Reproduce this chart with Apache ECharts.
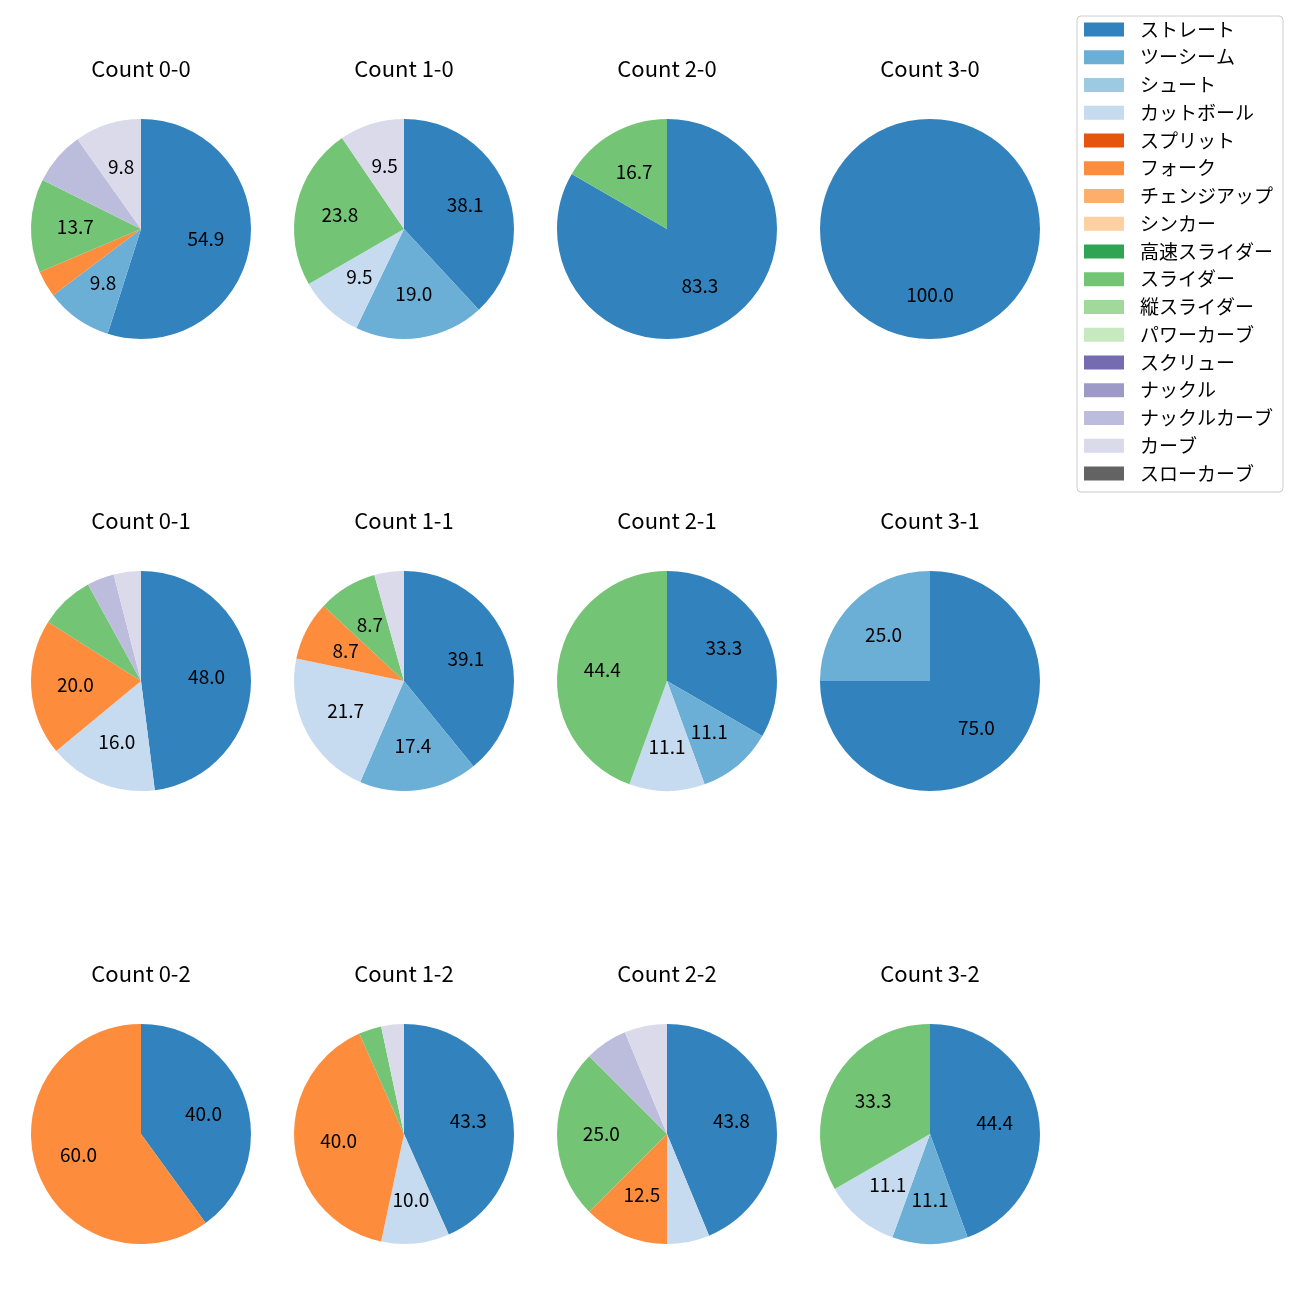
<!DOCTYPE html>
<html><head><meta charset="utf-8">
<script src="https://cdn.jsdelivr.net/npm/echarts@6/dist/echarts.min.js"></script>
<style>html,body{margin:0;padding:0;background:#fff}#c{width:1300px;height:1300px}</style>
</head><body><div id="c"></div>
<script>
const countLabels = ['Count 0-0','Count 1-0','Count 2-0','Count 3-0','Count 0-1','Count 1-1','Count 2-1','Count 3-1','Count 0-2','Count 1-2','Count 2-2','Count 3-2'];
const pitchTypes = ['ストレート','ツーシーム','シュート','カットボール','スプリット','フォーク','チェンジアップ','シンカー','高速スライダー','スライダー','縦スライダー','パワーカーブ','スクリュー','ナックル','ナックルカーブ','カーブ','スローカーブ'];
const pitchColors = ['#3182bd','#6baed6','#9ecae1','#c6dbef','#e6550d','#fd8d3c','#fdae6b','#fdd0a2','#31a354','#74c476','#a1d99b','#c7e9c0','#756bb1','#9e9ac8','#bcbddc','#dadaeb','#636363'];
// pitch counts per panel (order follows countLabels)
const straight     = [28,8,5,1,12,9,3,3,2,13,7,4];
const twoSeam      = [5,4,0,0,0,4,1,1,0,0,0,1];
const shoot        = [0,0,0,0,0,0,0,0,0,0,0,0];
const cutter       = [0,2,0,0,4,5,1,0,0,3,1,1];
const split        = [0,0,0,0,0,0,0,0,0,0,0,0];
const fork         = [2,0,0,0,5,2,0,0,3,12,2,0];
const changeup     = [0,0,0,0,0,0,0,0,0,0,0,0];
const sinker       = [0,0,0,0,0,0,0,0,0,0,0,0];
const fastSlider   = [0,0,0,0,0,0,0,0,0,0,0,0];
const slider       = [7,5,1,0,2,2,4,0,0,1,4,3];
const vertSlider   = [0,0,0,0,0,0,0,0,0,0,0,0];
const powerCurve   = [0,0,0,0,0,0,0,0,0,0,0,0];
const screw        = [0,0,0,0,0,0,0,0,0,0,0,0];
const knuckle      = [0,0,0,0,0,0,0,0,0,0,0,0];
const knuckleCurve = [4,0,0,0,1,0,0,0,0,0,1,0];
const curve        = [5,2,0,0,1,1,0,0,0,1,1,0];
const slowCurve    = [0,0,0,0,0,0,0,0,0,0,0,0];

const pitchCounts = [straight,twoSeam,shoot,cutter,split,fork,changeup,sinker,fastSlider,slider,vertSlider,powerCurve,screw,knuckle,knuckleCurve,curve,slowCurve];

const FONT = '"Noto Sans CJK JP", "Noto Sans", sans-serif';
const colX = [141, 404, 667, 930];
const rowY = [229, 681, 1134];
const R = 110;

const titles = [];
const series = [];
countLabels.forEach((lab, i) => {
  const cx = colX[i % 4], cy = rowY[Math.floor(i / 4)];
  const data = pitchTypes.map((name, k) => ({name, value: pitchCounts[k][i], itemStyle: {color: pitchColors[k]}}));
  const total = data.reduce((s, d) => s + d.value, 0);
  titles.push({text: lab, left: cx, top: cy - 171, textAlign: 'center', padding: 0,
    textStyle: {fontFamily: FONT, fontSize: 22, fontWeight: 'normal', color: '#000'}});
  series.push({type: 'pie', center: [cx, cy], radius: [0, R], startAngle: 90, clockwise: true,
    data, label: {show: false}, labelLine: {show: false}, itemStyle: {borderWidth: 0},
    emphasis: {disabled: true}, animation: false});
  series.push({type: 'pie', center: [cx, cy], radius: [0, R * 1.14], startAngle: 90, clockwise: true,
    silent: true, animation: false, emphasis: {disabled: true},
    data: data.map(d => ({name: d.name, value: d.value, itemStyle: {color: 'rgba(0,0,0,0)'}})),
    itemStyle: {borderWidth: 0},
    labelLine: {show: false},
    label: {show: true, position: 'inside', color: '#000', fontFamily: FONT, fontSize: 19,
      formatter: p => { const pct = p.value / total * 100; return pct >= 8.5 ? pct.toFixed(1) : ''; }}});
});

const chart = echarts.init(document.getElementById('c'), null, {renderer: 'canvas'});
chart.setOption({
  animation: false,
  backgroundColor: '#fff',
  title: titles,
  legend: {
    orient: 'vertical', left: 1077, top: 16,
    padding: [4, 10, 9, 7],
    itemWidth: 40, itemHeight: 14, itemGap: 8.75,
    borderColor: '#cccccc', borderWidth: 1, borderRadius: 4,
    selectedMode: false,
    textStyle: {fontFamily: FONT, fontSize: 19, lineHeight: 19, color: '#000', padding: [0, 0, 0, 11]},
    data: pitchTypes.map((name, k) => ({name, icon: 'rect', itemStyle: {color: pitchColors[k]}}))
  },
  series
});
</script></body></html>
